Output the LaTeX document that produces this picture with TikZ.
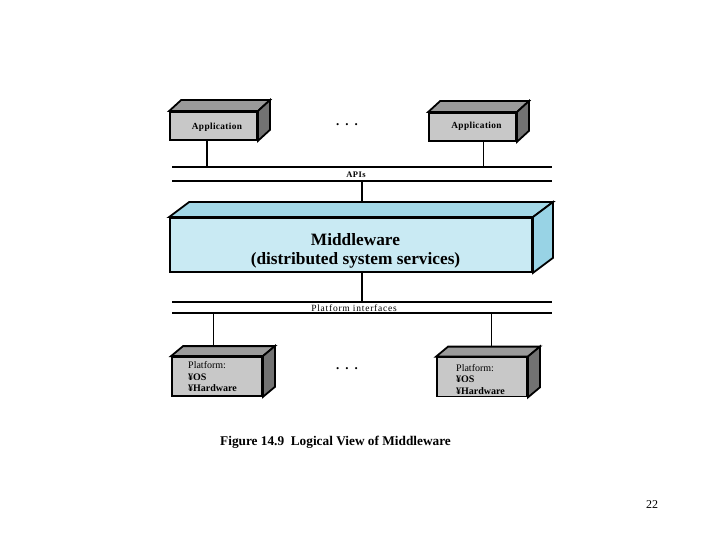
\documentclass[tikz,border=0pt]{standalone}
\usepackage{fontspec}
\setmainfont{Liberation Serif}
\usetikzlibrary{calc}
\definecolor{gfront}{HTML}{C8C8C8}
\definecolor{gtop}{HTML}{9A9A9A}
\definecolor{gside}{HTML}{727272}
\definecolor{bfront}{HTML}{C9EAF3}
\definecolor{btop}{HTML}{A3D8E7}
\definecolor{bside}{HTML}{98D3E5}
\newcommand\boxfaces[5]{%
  \filldraw[fill=#4, line width=1.8pt, line join=miter] (#1.north west) -- ++(#2,#3) -- ($(#1.north east)+(#2,#3)$) -- (#1.north east) -- cycle;
  \filldraw[fill=#5, line width=1.8pt, line join=miter] (#1.north east) -- ++(#2,#3) -- ($(#1.south east)+(#2,#3)$) -- (#1.south east) -- cycle;
}
\tikzset{
  front/.style={draw, line width=1.8pt, rectangle, inner sep=0pt, minimum width=#1},
  appbox/.style={front=87pt, minimum height=28pt, fill=gfront},
  apptext/.style={font=\fontsize{9.3}{11}\selectfont\bfseries\addfontfeature{LetterSpace=4}},
  platbox/.style={front=90pt, minimum height=39pt, fill=gfront},
  plattext/.style={anchor=north west, inner sep=0pt, align=left, font=\fontsize{10}{11.5}\selectfont},
  mwbox/.style={front=362pt, minimum height=54pt, fill=bfront},
  mwtext/.style={align=center, font=\fontsize{17.3}{19}\selectfont\bfseries},
  thickline/.style={line width=1.8pt},
  medline/.style={line width=1.4pt},
  thinline/.style={line width=0.9pt},
  dots/.style={font=\fontsize{13}{13}\selectfont\bfseries}
}
\begin{document}
\begin{tikzpicture}[x=1pt,y=-1pt]
\useasboundingbox (0,0) rectangle (720,540);
% Applications
\node[appbox] (app1) at (213.5,126) {};
\boxfaces{app1}{12}{-11}{gtop}{gside}
\node[apptext] (app1t) at (217,127) {Application};
\node[appbox] (app2) at (472.5,127) {};
\boxfaces{app2}{12}{-11}{gtop}{gside}
\node[apptext] (app2t) at (476.5,126) {Application};
\node[dots] (dots1) at (347,125) {.\hspace{6pt}.\hspace{6pt}.};
% API lines
\coordinate (apiTL) at (172,167);
\coordinate (apiTR) at (552,167);
\coordinate (apiBL) at (172,181);
\coordinate (apiBR) at (552,181);
\draw[thickline] (apiTL) -- (apiTR);
\draw[medline] (apiBL) -- (apiBR);
\node[font=\fontsize{8.5}{9}\selectfont\bfseries\addfontfeature{LetterSpace=6}] (apis) at (356,174.5) {APIs};
\coordinate (c1) at (207,167);
\coordinate (c2) at (483,167);
\draw[thickline] (app1.south -| c1) -- (c1);
\draw[thinline] (app2.south -| c2) -- (c2);
% Middleware
\node[mwbox] (mw) at (351,245) {};
\boxfaces{mw}{20}{-15}{btop}{bside}
\node[mwtext] (mwt) at (355.5,251) {Middleware\\(distributed system services)};
\coordinate (m1) at (362,181);
\coordinate (mwtop) at ($(mw.north)+(0,-15)$);
\draw[thickline] (m1) -- (m1 |- mwtop);
% Platform lines
\coordinate (plTL) at (172,302);
\coordinate (plTR) at (552,302);
\coordinate (plBL) at (172,313);
\coordinate (plBR) at (552,313);
\draw[thickline] (plTL) -- (plTR);
\draw[medline] (plBL) -- (plBR);
\node[font=\fontsize{9.5}{10}\selectfont\addfontfeature{LetterSpace=8}] (plint) at (354,308) {Platform interfaces};
\coordinate (m2) at (362,302);
\draw[thickline] (m2 |- mw.south) -- (m2);
% Platforms
\node[platbox] (p1) at (217,376.5) {};
\boxfaces{p1}{12}{-10}{gtop}{gside}
\node[plattext] (p1t) at (188,361.5) {Platform:\\\textbf{¥OS}\\\textbf{¥Hardware}};
\node[platbox] (p2) at (482,377) {};
\boxfaces{p2}{12}{-10}{gtop}{gside}
\node[plattext] (p2t) at (456,364) {Platform:\\\textbf{¥OS}\\\textbf{¥Hardware}};
\node[dots] (dots2) at (347,369) {.\hspace{6pt}.\hspace{6pt}.};
\coordinate (d1) at (213,313);
\coordinate (d2) at (491,313);
\coordinate (p1top) at ($(p1.north)+(0,-10)$);
\coordinate (p2top) at ($(p2.north)+(0,-10)$);
\draw[thinline] (d1) -- (d1 |- p1top);
\draw[thinline] (d2) -- (d2 |- p2top);
% Caption and page number
\node[font=\fontsize{13.3}{15}\selectfont\bfseries] (cap) at (335.5,442) {Figure 14.9\hspace{0.5em}Logical View of Middleware};
\node[font=\fontsize{12}{14}\selectfont] (pg) at (652,505) {22};
\end{tikzpicture}
\end{document}
